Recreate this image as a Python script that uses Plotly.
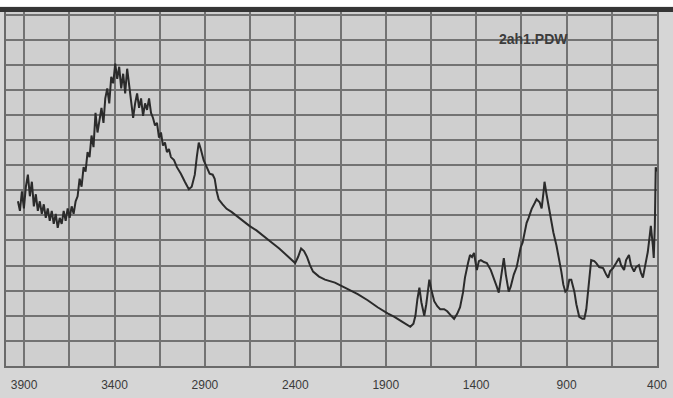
import plotly.graph_objects as go

# IR spectrum of sample 2ah1 (wavenumber in cm-1, transmittance in %)
wavenumber = [
    3934, 3923, 3912, 3901, 3890, 3879, 3868, 3857, 3846, 3835, 3824, 3813, 3802, 3791,
    3780, 3769, 3758, 3747, 3736, 3725, 3714, 3703, 3692, 3681, 3670, 3659, 3648, 3637,
    3626, 3615, 3604, 3593, 3582, 3571, 3560, 3549, 3538, 3527, 3516, 3505, 3494, 3483,
    3472, 3461, 3451, 3440, 3429, 3418, 3407, 3396, 3385, 3374, 3363, 3352, 3341, 3330,
    3319, 3308, 3297, 3286, 3275, 3264, 3253, 3242, 3231, 3220, 3209, 3198, 3187, 3176,
    3165, 3154, 3143, 3132, 3121, 3110, 3099, 3088, 3071, 3055, 3033, 3011, 2989, 2973,
    2956, 2945, 2934, 2923, 2907, 2890, 2874, 2857, 2846, 2835, 2824, 2802, 2780, 2753,
    2725, 2687, 2654, 2615, 2582, 2538, 2489, 2440, 2401, 2385, 2368, 2352, 2335, 2319,
    2302, 2269, 2236, 2181, 2137, 2055, 2000, 1945, 1890, 1852, 1808, 1764, 1747, 1736,
    1725, 1714, 1703, 1687, 1676, 1659, 1648, 1632, 1615, 1599, 1577, 1560, 1538, 1522,
    1505, 1489, 1473, 1462, 1445, 1434, 1423, 1412, 1401, 1396, 1385, 1374, 1357, 1341,
    1319, 1302, 1286, 1275, 1264, 1247, 1236, 1220, 1209, 1192, 1176, 1165, 1154, 1143,
    1132, 1121, 1110, 1093, 1077, 1066, 1049, 1038, 1027, 1022, 1011, 1000, 984, 973,
    956, 945, 929, 918, 907, 896, 885, 874, 863, 857, 846, 830, 813, 802,
    791, 780, 769, 764, 747, 736, 720, 698, 681, 670, 659, 643, 626, 610,
    599, 582, 571, 555, 544, 527, 516, 500, 489, 478, 467, 451, 440, 434,
    423, 418, 412, 407, 401,
]
transmittance = [
    32.8, 30.9, 34.8, 31.4, 35.7, 38.1, 33.8, 36.7, 31.8, 34.2, 30.9, 32.8, 30.3, 32.2,
    29.5, 31.4, 28.9, 30.9, 28.3, 30.3, 27.5, 29.5, 28.3, 30.9, 28.9, 31.4, 29.5, 31.8,
    30.3, 32.8, 33.8, 37.3, 35.7, 39.6, 38.7, 42.6, 41.6, 45.9, 43.6, 50.4, 46.5, 49.4,
    51.4, 48.4, 53.3, 55.3, 52.3, 57.6, 56.3, 60.2, 57.2, 59.6, 55.3, 58.2, 54.3, 59.2,
    55.7, 53.3, 49.4, 52.3, 54.3, 51.4, 53.3, 49.8, 52.3, 51.0, 53.3, 50.4, 49.4, 47.9,
    48.4, 45.5, 46.5, 43.9, 44.5, 42.6, 43.2, 41.6, 41.0, 39.6, 38.3, 36.7, 35.2, 35.7,
    38.1, 41.6, 44.5, 43.2, 41.0, 39.6, 38.3, 38.1, 37.3, 34.8, 33.2, 32.2, 31.3, 30.7,
    29.9, 28.9, 27.9, 27.0, 26.0, 24.8, 23.4, 21.7, 20.5, 21.7, 23.4, 22.9, 21.7, 20.1,
    18.8, 17.8, 17.2, 16.6, 15.8, 14.3, 13.1, 11.7, 10.5, 9.8, 8.8, 7.8, 8.4, 10.0,
    13.3, 15.6, 12.7, 10.0, 12.3, 17.2, 15.2, 12.9, 11.9, 11.3, 11.3, 10.9, 10.0, 9.4,
    10.4, 11.7, 14.6, 17.6, 20.5, 22.1, 21.7, 22.5, 20.1, 19.1, 20.9, 21.1, 20.7, 20.5,
    19.1, 17.6, 15.8, 14.6, 17.2, 21.5, 18.2, 14.8, 15.8, 18.2, 19.7, 21.5, 23.6, 24.6,
    27.0, 28.5, 29.5, 31.3, 32.4, 33.2, 32.6, 31.4, 34.8, 36.7, 34.2, 31.8, 28.9, 26.6,
    24.0, 22.1, 18.8, 16.2, 14.8, 15.2, 17.2, 17.2, 15.8, 14.8, 12.3, 9.8, 9.4, 9.4,
    11.3, 14.8, 18.6, 21.1, 20.9, 20.5, 19.7, 19.5, 18.2, 17.6, 18.9, 19.5, 20.5, 21.5,
    20.1, 19.1, 21.1, 22.1, 20.1, 18.8, 19.7, 20.1, 18.6, 17.6, 19.7, 22.7, 26.0, 27.9,
    24.0, 21.5, 27.9, 39.6, 38.7,
]

x_labels = ["3900", "3400", "2900", "2400", "1900", "1400", "900", "400"]
x_ticks = [3900, 3400, 2900, 2400, 1900, 1400, 900, 400]
sample_name = "2ah1.PDW"

grid_color = "#737373"

fig = go.Figure()
fig.add_trace(go.Scatter(
    x=wavenumber, y=transmittance, mode="lines",
    line=dict(color="#2b2b2b", width=2),
    hoverinfo="skip", showlegend=False,
))

fig.add_annotation(
    x=0.81, y=0.925, xref="paper", yref="paper", xanchor="center", yanchor="middle",
    text="<b>" + sample_name + "</b>", showarrow=False,
    font=dict(family="Liberation Sans, Arial, sans-serif", size=14, color="#3c3c3c"),
)

# dark frame edge above the chart and white strip above it
fig.add_shape(type="rect", xref="paper", yref="paper", x0=-0.02, x1=1.03,
              y0=1.0, y1=1.015, fillcolor="#353535", line_width=0, layer="above")
fig.add_shape(type="rect", xref="paper", yref="paper", x0=-0.02, x1=1.03,
              y0=1.015, y1=1.05, fillcolor="#ffffff", line_width=0, layer="above")

fig.update_layout(
    width=673, height=398,
    margin=dict(l=6, r=12, t=12, b=25),
    paper_bgcolor="#d6d6d6",
    plot_bgcolor="#cfcfcf",
    xaxis=dict(
        range=[4000, 400], tickvals=x_ticks, ticktext=x_labels,
        showgrid=True, gridcolor=grid_color, gridwidth=2,
        minor=dict(dtick=250, tick0=400, showgrid=True, gridcolor=grid_color, gridwidth=2),
        showline=True, linecolor="#6a6a6a", linewidth=2, mirror=True,
        ticks="", zeroline=False, ticklabelstandoff=7,
        tickfont=dict(family="Liberation Sans, Arial, sans-serif", size=12, color="#3a3a3a"),
    ),
    yaxis=dict(
        range=[0, 70.5], dtick=5, tick0=0, showticklabels=False,
        showgrid=True, gridcolor=grid_color, gridwidth=2,
        showline=True, linecolor="#6a6a6a", linewidth=2, mirror=True,
        ticks="", zeroline=False,
    ),
)

fig.write_html("out.html")
